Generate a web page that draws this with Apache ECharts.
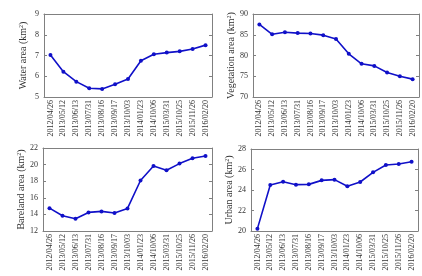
<!DOCTYPE html>
<html><head><meta charset="utf-8">
<script src="https://cdn.jsdelivr.net/npm/echarts@6/dist/echarts.min.js"></script>
<style>html,body{margin:0;padding:0;background:#fff}#c{width:422px;height:276px}</style>
</head><body><div id="c"></div>
<script>
const dates = ['2012/04/26','2013/05/12','2013/06/13','2013/07/31','2013/08/16','2013/09/17','2013/10/03','2014/01/23','2014/10/06','2015/03/31','2015/10/25','2015/11/26','2016/02/20'];
const waterArea = [7.02,6.22,5.74,5.42,5.39,5.61,5.87,6.75,7.06,7.14,7.20,7.31,7.50];
const vegetationArea = [87.5,85.1,85.6,85.4,85.3,84.9,84.0,80.4,78.0,77.5,75.9,75.0,74.3];
const barelandArea = [14.75,13.84,13.48,14.24,14.36,14.16,14.72,18.08,19.84,19.32,20.12,20.76,21.04];
const urbanArea = [20.23,24.49,24.81,24.52,24.55,24.94,25.01,24.36,24.78,25.72,26.44,26.54,26.76];
const yNames = ['Water area (km{s|2})','Vegetation area (km{s|2})','Bareland area (km{s|2})','Urban area (km{s|2})'];
const yRanges = [[5,9,1],[70,90,5],[12,22,2],[20,28,2]];
const seriesData = [waterArea, vegetationArea, barelandArea, urbanArea];

const font = 'Liberation Serif';
const axisColor = '#808080';
const textColor = '#333';
const grids = [
  {left:44, top:14, width:168, height:83},
  {left:253, top:14, width:166, height:83},
  {left:43, top:148, width:169, height:83},
  {left:251, top:149, width:167, height:82}
];
const xAxes = [], yAxes = [], series = [];
grids.forEach((g,i)=>{
  xAxes.push({type:'category', gridIndex:i, data:dates, boundaryGap:true, position:'bottom',
    axisLine:{lineStyle:{color:axisColor,width:1}},
    axisTick:{inside:true, alignWithLabel:true, length:3, lineStyle:{color:axisColor}},
    axisLabel:{rotate:90, fontSize:8, fontFamily:font, color:textColor, margin:3, interval:0},
    splitLine:{show:false}});
  xAxes.push({type:'category', gridIndex:i, data:dates, boundaryGap:true, position:'top',
    axisLine:{lineStyle:{color:axisColor,width:1}},
    axisTick:{inside:true, alignWithLabel:true, length:3, lineStyle:{color:axisColor}},
    axisLabel:{show:false}, splitLine:{show:false}});
  const r = yRanges[i];
  yAxes.push({type:'value', gridIndex:i, min:r[0], max:r[1], interval:r[2], position:'left',
    name:yNames[i], nameLocation:'middle', nameGap:16,
    nameTextStyle:{fontSize:10, fontFamily:font, color:textColor,
      rich:{s:{fontSize:6, fontFamily:font, color:textColor, verticalAlign:'top', lineHeight:10}}},
    axisLine:{show:true, lineStyle:{color:axisColor,width:1}},
    axisTick:{show:true, inside:true, length:3, lineStyle:{color:axisColor}},
    axisLabel:{fontSize:8, fontFamily:font, color:textColor, margin:5},
    splitLine:{show:false}});
  yAxes.push({type:'value', gridIndex:i, min:r[0], max:r[1], interval:r[2], position:'right',
    axisLine:{show:true, lineStyle:{color:axisColor,width:1}},
    axisTick:{show:true, inside:true, length:3, lineStyle:{color:axisColor}},
    axisLabel:{show:false}, splitLine:{show:false}});
  series.push({type:'line', xAxisIndex:2*i, yAxisIndex:2*i, data:seriesData[i],
    symbol:'circle', symbolSize:4, showSymbol:true,
    lineStyle:{color:'#1010c8', width:1.6}, itemStyle:{color:'#1010c8'}, animation:false});
});
const chart = echarts.init(document.getElementById('c'), null, {renderer:'canvas'});
chart.setOption({animation:false, grid:grids, xAxis:xAxes, yAxis:yAxes, series:series});
</script></body></html>
